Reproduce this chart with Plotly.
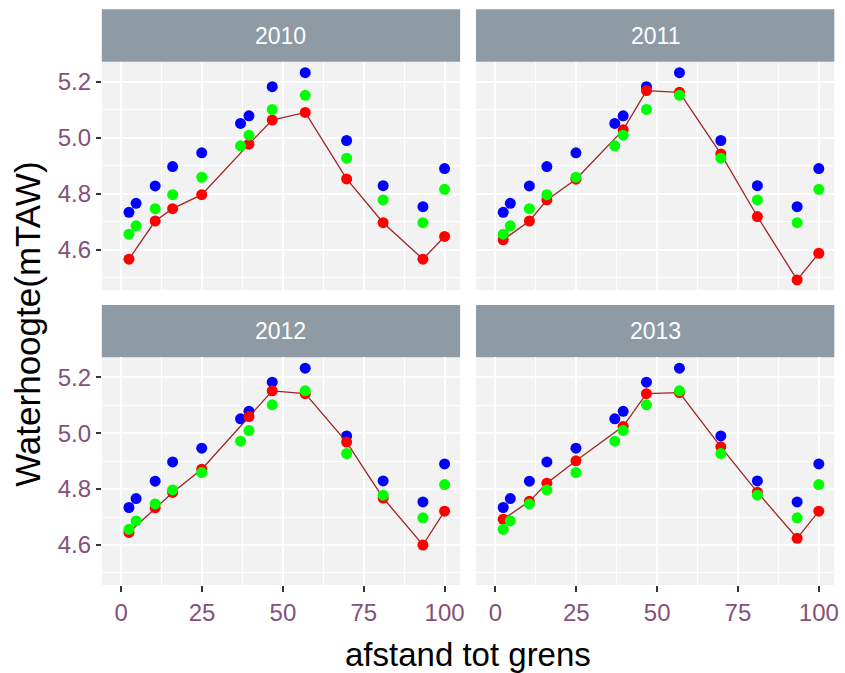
import plotly.graph_objects as go

# --- data -------------------------------------------------------------
jaren = ["2010", "2011", "2012", "2013"]

# afstand tot grens for the reference series (blue / green)
afstand_ref = [2.4, 4.6, 10.5, 15.9, 24.9, 36.9, 39.5, 46.7, 56.9, 69.7, 81.0, 93.3, 100.0]
blauw = [4.734, 4.766, 4.828, 4.897, 4.946, 5.051, 5.078, 5.182, 5.232, 4.990, 4.829, 4.754, 4.890]
groen = [4.656, 4.686, 4.747, 4.797, 4.859, 4.971, 5.009, 5.101, 5.151, 4.927, 4.778, 4.697, 4.816]

# afstand tot grens for the yearly measurements (red)
afstand_jaar = [2.4, 10.5, 15.9, 24.9, 39.5, 46.7, 56.9, 69.7, 81.0, 93.3, 100.0]
rood_2010 = [4.567, 4.703, 4.747, 4.797, 4.977, 5.063, 5.090, 4.853, 4.697, 4.567, 4.648]
rood_2011 = [4.636, 4.703, 4.778, 4.852, 5.028, 5.168, 5.162, 4.942, 4.719, 4.493, 4.588]
rood_2012 = [4.645, 4.733, 4.788, 4.871, 5.059, 5.151, 5.141, 4.968, 4.768, 4.600, 4.721]
rood_2013 = [4.692, 4.756, 4.821, 4.901, 5.024, 5.141, 5.145, 4.951, 4.789, 4.624, 4.721]
rood = [rood_2010, rood_2011, rood_2012, rood_2013]

x_ticks = [0, 25, 50, 75, 100]
y_ticks = [4.6, 4.8, 5.0, 5.2]

# --- layout geometry (pixels) ------------------------------------------
W, H = 845, 673
col_px = [(102.3, 462.3), (478.3, 838.3)]
row_px = [(61.7, 290.0), (357.3, 585.0)]   # top, bottom of panel area
strip_h = 52.4

def fx(p):
    return p / W

def fy(p):
    return 1 - p / H

FONT = "Liberation Sans, Arial, sans-serif"
TICK_COL = "#86507A"
STRIP_COL = "#8E9BA5"
PANEL_BG = "#F2F2F2"

fig = go.Figure()
shapes = []
annotations = []

for i, jaar in enumerate(jaren):
    r, c = divmod(i, 2)
    n = "" if i == 0 else str(i + 1)
    xa, ya = "x" + n, "y" + n

    fig.add_trace(go.Scatter(x=afstand_ref, y=blauw, mode="markers",
                             marker=dict(color="#0000FF", size=11),
                             xaxis=xa, yaxis=ya, showlegend=False))
    fig.add_trace(go.Scatter(x=afstand_jaar, y=rood[i], mode="lines",
                             line=dict(color="#9E2424", width=1.3),
                             xaxis=xa, yaxis=ya, showlegend=False))
    fig.add_trace(go.Scatter(x=afstand_jaar, y=rood[i], mode="markers",
                             marker=dict(color="#FF0000", size=11),
                             xaxis=xa, yaxis=ya, showlegend=False))
    fig.add_trace(go.Scatter(x=afstand_ref, y=groen, mode="markers",
                             marker=dict(color="#00FF00", size=11),
                             xaxis=xa, yaxis=ya, showlegend=False))

    x0, x1 = col_px[c]
    top, bot = row_px[r]

    fig.layout["xaxis" + n] = dict(
        domain=[fx(x0), fx(x1)], range=[-6.0, 104.8], anchor=ya,
        tickvals=x_ticks, ticktext=[str(v) for v in x_ticks],
        showticklabels=(r == 1), ticks="outside" if r == 1 else "",
        ticklen=6, tickwidth=1.5, tickcolor="#333333",
        tickfont=dict(family=FONT, size=24, color=TICK_COL),
        showgrid=True, gridcolor="white", gridwidth=2,
        minor=dict(tickvals=[12.5, 37.5, 62.5, 87.5], showgrid=True,
                   gridcolor="white", gridwidth=1),
        zeroline=False, showline=False, fixedrange=True,
    )
    fig.layout["yaxis" + n] = dict(
        domain=[fy(bot), fy(top)], range=[4.457, 5.271], anchor=xa,
        tickvals=y_ticks, ticktext=["%.1f" % v for v in y_ticks],
        showticklabels=(c == 0), ticks="outside" if c == 0 else "",
        ticklen=5, tickwidth=1.5, tickcolor="#333333",
        tickfont=dict(family=FONT, size=24, color=TICK_COL),
        showgrid=True, gridcolor="white", gridwidth=2,
        minor=dict(tickvals=[4.5, 4.7, 4.9, 5.1], showgrid=True,
                   gridcolor="white", gridwidth=1),
        zeroline=False, showline=False, fixedrange=True,
    )

    # panel background
    shapes.append(dict(type="rect", xref="paper", yref="paper",
                       x0=fx(x0), x1=fx(x1), y0=fy(bot), y1=fy(top),
                       fillcolor=PANEL_BG, line=dict(width=0), layer="below"))
    # facet strip
    shapes.append(dict(type="rect", xref="paper", yref="paper",
                       x0=fx(x0), x1=fx(x1), y0=fy(top), y1=fy(top - strip_h),
                       fillcolor=STRIP_COL, line=dict(width=0), layer="below"))
    annotations.append(dict(text=jaar, xref="paper", yref="paper",
                            x=fx((x0 + x1) / 2), y=fy(top - strip_h / 2),
                            xanchor="center", yanchor="middle", showarrow=False,
                            font=dict(family=FONT, size=23, color="white")))

annotations.append(dict(text="afstand tot grens", xref="paper", yref="paper",
                        x=fx(470), y=fy(654),
                        xanchor="center", yanchor="middle", showarrow=False,
                        font=dict(family=FONT, size=33, color="black")))
annotations.append(dict(text="Waterhoogte(mTAW)", xref="paper", yref="paper",
                        x=fx(27), y=fy(324),
                        xanchor="center", yanchor="middle", showarrow=False,
                        textangle=-90,
                        font=dict(family=FONT, size=35, color="black")))

fig.update_layout(
    width=W, height=H, margin=dict(l=0, r=0, t=0, b=0),
    paper_bgcolor="white", plot_bgcolor="rgba(0,0,0,0)",
    shapes=shapes, annotations=annotations, showlegend=False,
)

fig.write_html("out.html")
